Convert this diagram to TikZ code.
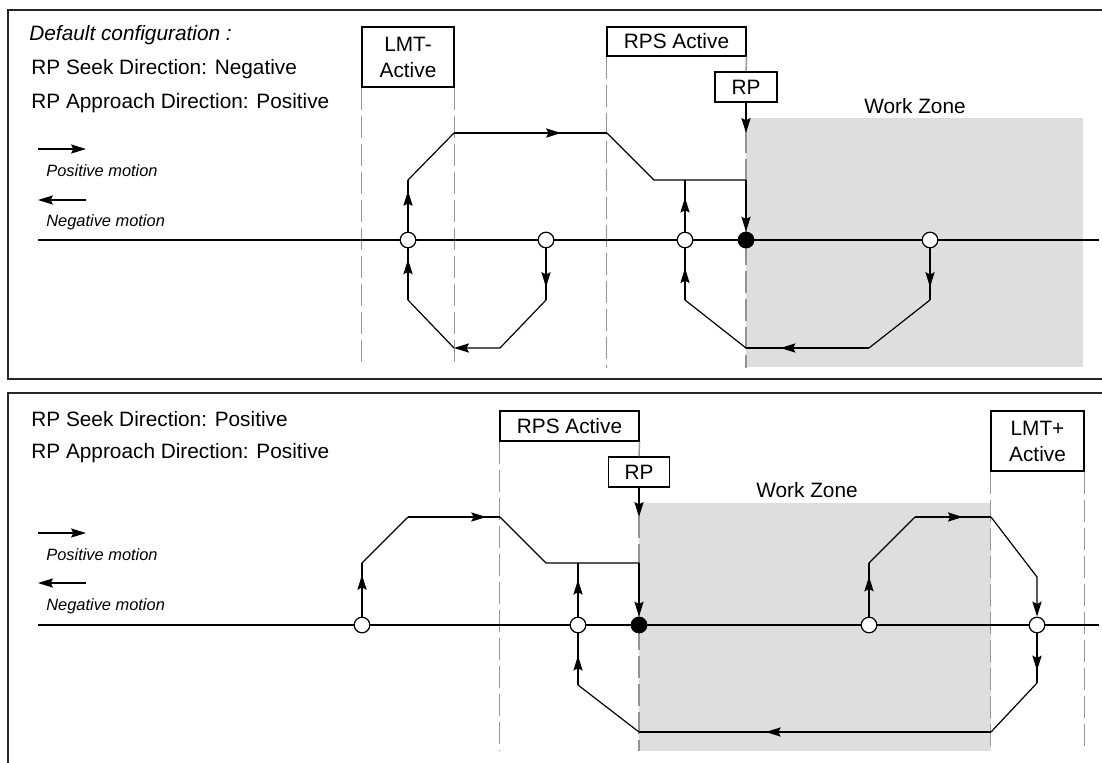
\documentclass[tikz,border=0pt]{standalone}
\usepackage{fontspec}
\setmainfont{Liberation Sans}
\usepackage{tikz}
\usetikzlibrary{arrows.meta}
\usetikzlibrary{decorations.markings}

\tikzset{
  >={Stealth[length=7.5pt,width=4.6pt,inset=1.2pt]},
  panel/.style={draw=black!85, line width=1pt},
  flow/.style={line width=0.6pt},
  limit/.style={draw=black!42, line width=0.7pt, dash pattern=on 11pt off 3pt},
  tag/.style={draw, fill=white, line width=0.6pt, inner sep=0pt, align=center, font=\fontsize{10.4}{13}\selectfont},
  infotext/.style={anchor=base west, inner sep=0pt, font=\fontsize{10.4}{13}\selectfont},
  motiontext/.style={anchor=base west, inner sep=0pt, font=\fontsize{8.2}{10}\selectfont\itshape},
  zonetext/.style={anchor=base, inner sep=0pt, font=\fontsize{10.4}{13}\selectfont},
  spot/.style={circle, draw, fill=white, line width=0.6pt, minimum size=7.8pt, inner sep=0pt},
  rpspot/.style={spot, fill=black},
  zone/.style={fill=black!13},
  midarrow/.style={postaction={decorate}, decoration={markings, mark=at position #1 with {\arrow{>}}}},
}

\begin{document}
\begin{tikzpicture}[x=0.5pt, y=-0.5pt]
  \useasboundingbox (0,0) rectangle (1102,762);
  \clip (0,0) rectangle (1102,762);

  % upper panel: seek negative, approach positive
  \draw[panel] (8,10) rectangle (1130,379);
  \fill[zone] (746,118) rectangle (1083,367);
  \node[zonetext] (wz1) at (915,113) {Work Zone};

  \node[infotext] (defcfg) at (29,40) {\itshape Default configuration :};
  \node[infotext] (seek1) at (31,74) {RP Seek Direction: Negative};
  \node[infotext] (appr1) at (31,108) {RP Approach Direction: Positive};
  \draw[flow,->] (38,149) -- (86,149);
  \node[motiontext] (pos1) at (46,176) {Positive motion};
  \draw[flow,->] (86,200) -- (38,200);
  \node[motiontext] (neg1) at (46,226) {Negative motion};

  \node[tag, minimum width=46pt, minimum height=30pt] (lmtn) at (408,57) {LMT-\\Active};
  \node[tag, minimum width=69.5pt, minimum height=14.5pt] (rps1) at (676.5,41.5) {RPS Active};
  \node[tag, minimum width=31pt, minimum height=15pt] (rp1) at (746,87) {RP};
  \draw[limit] (lmtn.south west) -- ++(0,276);
  \draw[limit] (lmtn.south east) -- ++(0,280);
  \draw[limit] (rps1.south west) -- ++(0,311);
  \draw[limit] (rps1.south east) -- (rp1.north);
  \draw[limit] (rp1.south) -- ++(0,265);
  \draw[flow,->] (rp1) -- (746,133);

  \draw[flow] (38,240) -- (1099,240);
  \node[spot] (a1) at (408,240) {};
  \node[spot] (a2) at (546,240) {};
  \node[spot] (a3) at (685,240) {};
  \node[rpspot] (rpt) at (746,240) {};
  \node[spot] (a4) at (930,240) {};

  % seek run
  \draw[flow, midarrow=0.79] (a1) -- (408,180);
  \draw[flow] (408,180) -- (454,133);
  \draw[flow, midarrow=0.7] (454,133) -- (607,133);
  \draw[flow] (607,133) -- (654,180) -- (746,180);
  \draw[flow,->] (746,180) -- (rpt);
  \draw[flow, midarrow=0.66] (a3) -- (685,180);
  % return runs
  \draw[flow, midarrow=0.75] (a2) -- (546,300);
  \draw[flow,->] (546,300) -- (500,348) -- (454,348);
  \draw[flow] (454,348) -- (408,300);
  \draw[flow, midarrow=0.79] (408,300) -- (a1);
  \draw[flow, midarrow=0.75] (a4) -- (930,300);
  \draw[flow] (930,300) -- (869,348);
  \draw[flow, midarrow=0.72] (869,348) -- (746,348);
  \draw[flow] (746,348) -- (685,300);
  \draw[flow, midarrow=0.62] (685,300) -- (a3);

  % lower panel: seek positive, approach positive
  \draw[panel] (8,393) rectangle (1130,790);
  \fill[zone] (639,503) rectangle (991,751);
  \node[zonetext] (wz2) at (807,497) {Work Zone};

  \node[infotext] (seek2) at (31,426) {RP Seek Direction: Positive};
  \node[infotext] (appr2) at (31,458) {RP Approach Direction: Positive};
  \draw[flow,->] (38,533) -- (86,533);
  \node[motiontext] (pos2) at (46,560) {Positive motion};
  \draw[flow,->] (86,583) -- (38,583);
  \node[motiontext] (neg2) at (46,610) {Negative motion};

  \node[tag, minimum width=69.5pt, minimum height=15pt] (rps2) at (569.5,426) {RPS Active};
  \node[tag, minimum width=30.5pt, minimum height=15pt] (rp2) at (639,472) {RP};
  \node[tag, minimum width=46.5pt, minimum height=30pt] (lmtp) at (1037.5,441) {LMT+\\Active};
  \draw[limit] (rps2.south west) -- ++(0,309);
  \draw[limit] (rps2.south east) -- (rp2.north);
  \draw[limit] (rp2.south) -- ++(0,263);
  \draw[limit] (lmtp.south west) -- ++(0,279);
  \draw[limit] (lmtp.south east) -- ++(0,279);
  \draw[flow,->] (rp2) -- (639,517);

  \draw[flow] (38,625) -- (1099,625);
  \node[spot] (b1) at (362,625) {};
  \node[spot] (b2) at (578,625) {};
  \node[rpspot] (rpb) at (639,625) {};
  \node[spot] (b3) at (869,625) {};
  \node[spot] (b4) at (1037,625) {};

  % seek run
  \draw[flow, midarrow=0.78] (b1) -- (362,563);
  \draw[flow] (362,563) -- (408,517);
  \draw[flow, midarrow=0.85] (408,517) -- (500,517);
  \draw[flow] (500,517) -- (546,563) -- (639,563);
  \draw[flow,->] (639,563) -- (rpb);
  \draw[flow, midarrow=0.69] (b2) -- (578,563);
  \draw[flow, midarrow=0.75] (b3) -- (869,563);
  \draw[flow] (869,563) -- (915,517);
  \draw[flow, midarrow=0.63] (915,517) -- (991,517);
  \draw[flow,->] (991,517) -- (1037,577) -- (b4);
  % return run
  \draw[flow, midarrow=0.75] (b4) -- (1037,683);
  \draw[flow] (1037,683) -- (991,732);
  \draw[flow, midarrow=0.64] (991,732) -- (639,732);
  \draw[flow] (639,732) -- (578,685);
  \draw[flow, midarrow=0.57] (578,685) -- (b2);
\end{tikzpicture}
\end{document}
